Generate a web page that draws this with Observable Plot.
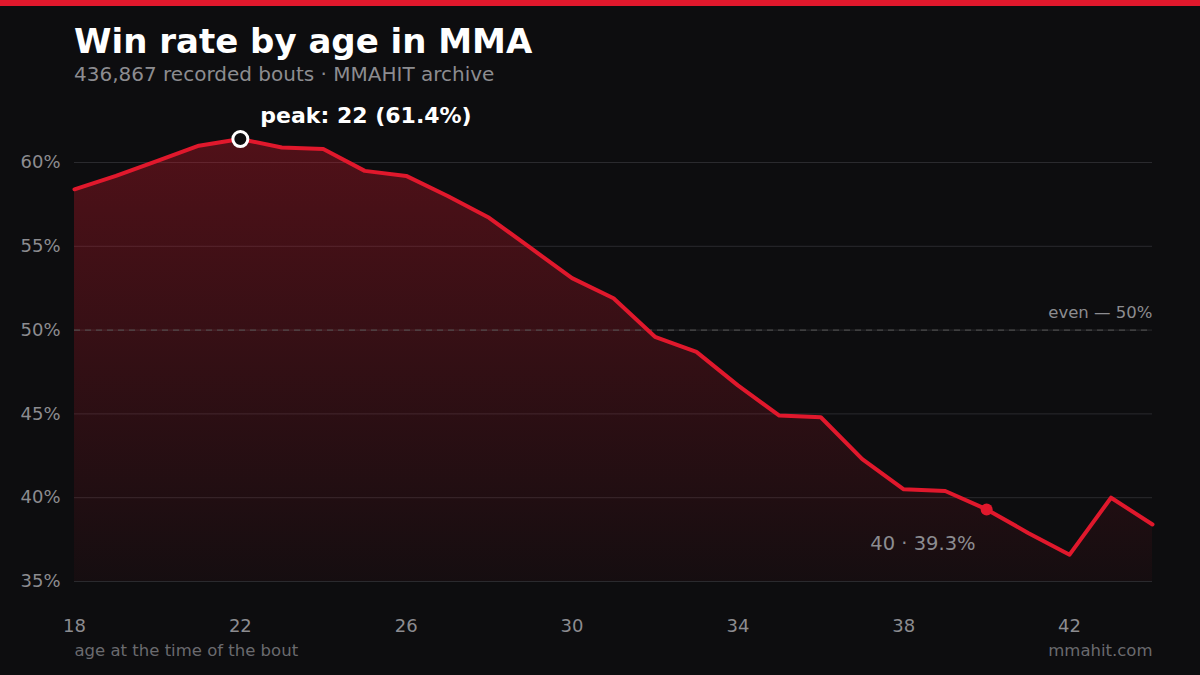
<!DOCTYPE html>
<html><head><meta charset="utf-8">
<script src="https://cdn.jsdelivr.net/npm/d3@7"></script>
<script src="https://cdn.jsdelivr.net/npm/@observablehq/plot@0.6"></script>
<style>
html,body{margin:0;padding:0;background:#0d0d0f;font-family:"DejaVu Sans",sans-serif;}
#wrap{position:relative;width:1200px;height:675px;overflow:hidden;}
#bar{position:absolute;left:0;top:0;width:1200px;height:6px;background:#e0182c;}
#title{position:absolute;left:74px;top:21px;color:#fff;font-weight:bold;font-size:34px;}
#sub{position:absolute;left:74px;top:62px;color:#8c8c90;font-size:20px;}
#chart{position:absolute;left:0;top:0;}
</style></head><body>
<div id="wrap"><div id="chart"></div><div id="bar"></div>
<div id="title">Win rate by age in MMA</div>
<div id="sub">436,867 recorded bouts · MMAHIT archive</div></div>
<script>
const ages = [18,19,20,21,22,23,24,25,26,27,28,29,30,31,32,33,34,35,36,37,38,39,40,41,42,43,44];
const winRate = [58.4,59.2,60.1,61.0,61.4,60.9,60.8,59.5,59.2,58.0,56.7,54.9,53.1,51.9,49.6,48.7,46.7,44.9,44.8,42.3,40.5,40.4,39.3,37.9,36.6,40.0,38.4];
const xTicks = [18,22,26,30,34,38,42];
const yTicks = [35,40,45,50,55,60];
const data = ages.map((a,i)=>({age:a, rate:winRate[i]}));
const peak = data[4], mark40 = data[22];

const plot = Plot.plot({
  width:1200, height:675,
  marginTop:162, marginBottom:94, marginLeft:74, marginRight:48,
  style:{background:"transparent", color:"#8c8c90", fontFamily:"DejaVu Sans, sans-serif", fontSize:"18px"},
  x:{domain:[18,44]},
  y:{domain:[35,60]},
  marks:[
    () => {
      const ns="http://www.w3.org/2000/svg";
      const defs=document.createElementNS(ns,"defs");
      defs.innerHTML='<linearGradient id="g" x1="0" y1="0" x2="0" y2="1"><stop offset="0" stop-color="#e0182c" stop-opacity="0.32"/><stop offset="1" stop-color="#e0182c" stop-opacity="0.04"/></linearGradient>';
      return defs;
    },
    Plot.gridY(yTicks,{stroke:"#2a2a2e", strokeOpacity:1}),
    Plot.areaY(data,{x:"age", y1:35, y2:"rate", fill:"url(#g)"}),
    Plot.ruleY([50],{stroke:"#555", strokeDasharray:"6,5"}),
    Plot.text(["even — 50%"],{x:44, y:50, textAnchor:"end", dy:-17, fill:"#8c8c90", fontSize:16.5}),
    Plot.line(data,{x:"age", y:"rate", stroke:"#e0182c", strokeWidth:4}),
    Plot.axisY(yTicks,{tickSize:0, tickPadding:14, tickFormat:d=>d+"%", fontSize:18, label:null}),
    Plot.axisX(xTicks,{tickSize:0, tickPadding:38, label:null, fontSize:18}),
    Plot.dot([peak],{x:"age", y:"rate", r:7.5, fill:"#0d0d0f", stroke:"#fff", strokeWidth:3}),
    Plot.text([peak],{x:"age", y:"rate", text:d=>`peak: ${d.age} (${d.rate}%)`, textAnchor:"start", dx:20, dy:-23, fill:"#fff", fontWeight:"bold", fontSize:22}),
    Plot.dot([mark40],{x:"age", y:"rate", r:6, fill:"#e0182c"}),
    Plot.text([mark40],{x:"age", y:"rate", text:d=>`${d.age} · ${d.rate}%`, textAnchor:"end", dx:-11, dy:34, fill:"#8c8c90", fontSize:19.5}),
    Plot.text(["age at the time of the bout"],{x:18, y:35, textAnchor:"start", dy:69, fill:"#6a6a6e", fontSize:16.5}),
    Plot.text(["mmahit.com"],{x:44, y:35, textAnchor:"end", dy:69, fill:"#6a6a6e", fontSize:16.5})
  ]
});
document.getElementById("chart").appendChild(plot);
</script></body></html>
